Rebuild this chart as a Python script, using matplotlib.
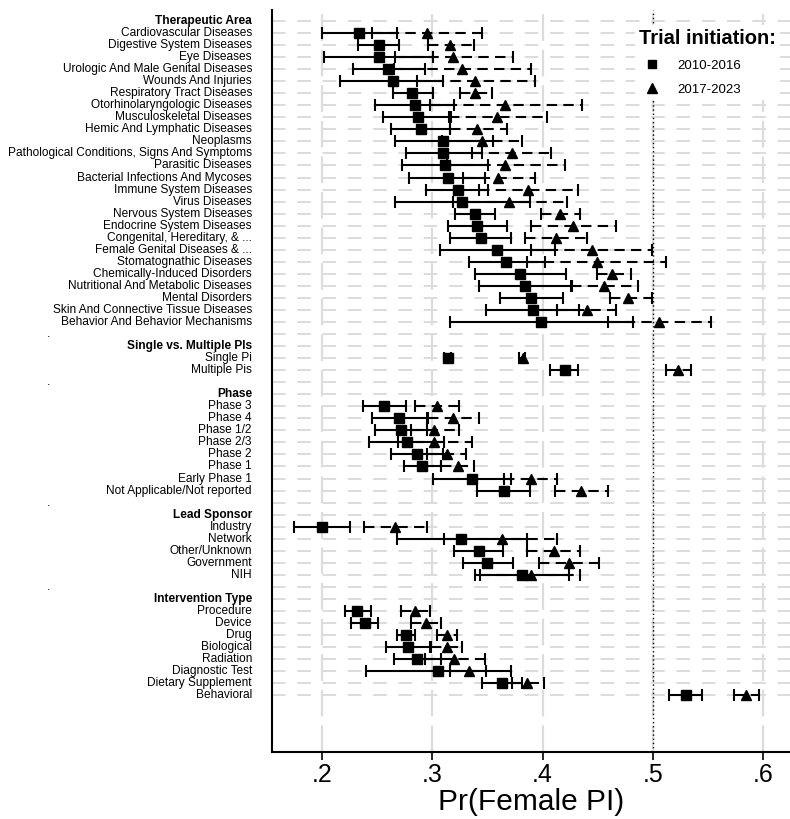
import numpy as np
import matplotlib
matplotlib.use("Agg")
import matplotlib.pyplot as plt
import matplotlib.transforms as mtrans
from matplotlib.lines import Line2D

plt.rcParams['font.family'] = ['Liberation Sans', 'DejaVu Sans']

# ---- data ----
groups = ["Therapeutic Area", "Single vs. Multiple PIs", "Phase", "Lead Sponsor", "Intervention Type"]
group_sizes = [25, 2, 8, 5, 8]
categories = [
    "Cardiovascular Diseases", "Digestive System Diseases", "Eye Diseases",
    "Urologic And Male Genital Diseases", "Wounds And Injuries", "Respiratory Tract Diseases",
    "Otorhinolaryngologic Diseases", "Musculoskeletal Diseases", "Hemic And Lymphatic Diseases",
    "Neoplasms", "Pathological Conditions, Signs And Symptoms", "Parasitic Diseases",
    "Bacterial Infections And Mycoses", "Immune System Diseases", "Virus Diseases",
    "Nervous System Diseases", "Endocrine System Diseases", "Congenital, Hereditary, & ...",
    "Female Genital Diseases & ...", "Stomatognathic Diseases", "Chemically-Induced Disorders",
    "Nutritional And Metabolic Diseases", "Mental Disorders", "Skin And Connective Tissue Diseases",
    "Behavior And Behavior Mechanisms",
    "Single Pi", "Multiple Pis",
    "Phase 3", "Phase 4", "Phase 1/2", "Phase 2/3", "Phase 2", "Phase 1", "Early Phase 1",
    "Not Applicable/Not reported",
    "Industry", "Network", "Other/Unknown", "Government", "NIH",
    "Procedure", "Device", "Drug", "Biological", "Radiation", "Diagnostic Test",
    "Dietary Supplement", "Behavioral",
]

# 2010-2016 (squares)
est_early = [.234, .252, .252, .260, .264, .282, .284, .287, .290, .310, .310, .312, .314,
             .323, .327, .339, .341, .344, .359, .367, .380, .384, .390, .391, .399,
             .314, .420,
             .256, .270, .272, .277, .286, .291, .336, .365,
             .200, .326, .342, .350, .381,
             .232, .239, .276, .278, .286, .305, .363, .530]
lo_early = [.200, .233, .202, .228, .216, .264, .248, .255, .263, .266, .276, .273, .279,
            .294, .266, .321, .314, .316, .307, .333, .339, .342, .361, .349, .316,
            .311, .407,
            .237, .245, .248, .243, .263, .274, .301, .341,
            .175, .268, .320, .328, .339,
            .221, .226, .268, .258, .265, .240, .345, .515]
hi_early = [.268, .270, .301, .293, .310, .301, .320, .317, .316, .355, .345, .351, .348,
            .351, .389, .357, .368, .371, .411, .402, .421, .427, .419, .433, .482,
            .317, .432,
            .276, .295, .295, .311, .310, .308, .371, .389,
            .225, .386, .364, .373, .424,
            .244, .251, .284, .298, .308, .371, .381, .545]

# 2017-2023 (triangles)
est_late = [.295, .316, .319, .327, .339, .339, .366, .359, .341, .345, .372, .366, .360,
            .387, .370, .416, .428, .412, .445, .449, .463, .456, .478, .440, .506,
            .382, .523,
            .304, .319, .302, .302, .313, .323, .390, .435,
            .266, .363, .410, .424, .390,
            .284, .294, .313, .313, .320, .333, .386, .585]
lo_late = [.245, .296, .266, .265, .286, .325, .298, .315, .316, .309, .336, .313, .328,
           .342, .319, .399, .390, .384, .390, .386, .449, .426, .461, .413, .459,
           .379, .512,
           .284, .296, .281, .269, .295, .308, .365, .411,
           .238, .311, .386, .397, .343,
           .272, .281, .304, .299, .293, .316, .372, .574]
hi_late = [.345, .338, .373, .390, .393, .354, .436, .404, .368, .381, .408, .420, .393,
           .432, .422, .434, .467, .440, .499, .512, .480, .487, .499, .467, .553,
           .384, .535,
           .324, .342, .324, .336, .331, .338, .413, .459,
           .295, .413, .434, .451, .434,
           .298, .308, .322, .327, .348, .349, .401, .596]

xticks = [.2, .3, .4, .5, .6]
xticklabels = [".2", ".3", ".4", ".5", ".6"]

# ---- row layout: header row per group, a "." spacer row between groups ----
rows_label, rows_kind, cat_rows = [], [], []
for gi, (g, n) in enumerate(zip(groups, group_sizes)):
    if gi > 0:
        rows_label.append(".")
        rows_kind.append("dot")
    rows_label.append(g)
    rows_kind.append("head")
    for _ in range(n):
        cat_rows.append(len(rows_label))
        rows_label.append(None)
        rows_kind.append("cat")
cat_rows = np.array(cat_rows)
nrows = len(rows_label)

W, H = 790, 819
fig = plt.figure(figsize=(W / 100, H / 100), dpi=100)
ax_l, ax_r, ax_t, ax_b = 272, 790, 10, 752
ax = fig.add_axes([ax_l / W, 1 - ax_b / H, (ax_r - ax_l) / W, (ax_b - ax_t) / H])

row0, step = 21, 12.04
ax.set_ylim((ax_b - row0) / step, (ax_t - row0) / step)
ax.set_xlim(0.2 - 50 / 1102.5, 0.6 + 27 / 1102.5)

grid_c = "#dcdcdc"
for r in range(nrows):
    ax.axhline(r, color=grid_c, lw=1.4, ls=(0, (7, 6)), zorder=0)
for xv in xticks:
    ax.axvline(xv, color=grid_c, lw=1.6, ls=(0, (12, 4)), zorder=0)
ax.axvline(0.5, color="black", lw=1.0, ls=(0, (1, 2)), zorder=1)

eb1 = ax.errorbar(est_early, cat_rows,
                  xerr=[np.array(est_early) - np.array(lo_early), np.array(hi_early) - np.array(est_early)],
                  fmt="s", color="black", ms=6.5, elinewidth=1.5, capsize=4, capthick=1.5, zorder=3)
eb2 = ax.errorbar(est_late, cat_rows,
                  xerr=[np.array(est_late) - np.array(lo_late), np.array(hi_late) - np.array(est_late)],
                  fmt="^", color="black", ms=7, elinewidth=1.5, capsize=4, capthick=1.5, zorder=3)
eb2[2][0].set_linestyle((0, (5, 3)))

# left labels
trans = mtrans.blended_transform_factory(fig.transFigure, ax.transData)
lab_fs = 8.6
ci = 0
for r, (lab, kind) in enumerate(zip(rows_label, rows_kind)):
    if kind == "dot":
        ax.text(47 / W, r, ".", transform=trans, ha="left", va="center", fontsize=lab_fs)
    elif kind == "head":
        ax.text(252 / W, r, lab, transform=trans, ha="right", va="center", fontsize=lab_fs,
                fontweight="bold")
    else:
        ax.text(252 / W, r, categories[ci], transform=trans, ha="right", va="center", fontsize=lab_fs)
        ci += 1

ax.set_yticks([])
ax.set_xticks(xticks)
ax.set_xticklabels(xticklabels, fontsize=18)
ax.tick_params(axis="x", length=6, width=1.2, pad=2)
ax.set_xlabel("Pr(Female PI)", fontsize=21.5, labelpad=1)
for s in ["top", "right"]:
    ax.spines[s].set_visible(False)
for s in ["left", "bottom"]:
    ax.spines[s].set_linewidth(1.5)

handles = [Line2D([], [], marker="s", color="black", ls="none", ms=6),
           Line2D([], [], marker="^", color="black", ls="none", ms=7)]
leg = ax.legend(handles, ["2010-2016", "2017-2023"], title="Trial initiation:",
                loc="upper left", bbox_to_anchor=(628 / W, 1 - 18 / H),
                bbox_transform=fig.transFigure, frameon=True, fontsize=9.5,
                title_fontproperties={"weight": "bold", "size": 14.5},
                handletextpad=0.9, labelspacing=0.9, borderpad=0.3)
leg.get_frame().set_edgecolor("none")
leg.get_frame().set_facecolor("white")
leg.get_frame().set_alpha(1)
leg._legend_box.align = "left"

fig.savefig("out.png", dpi=100)
